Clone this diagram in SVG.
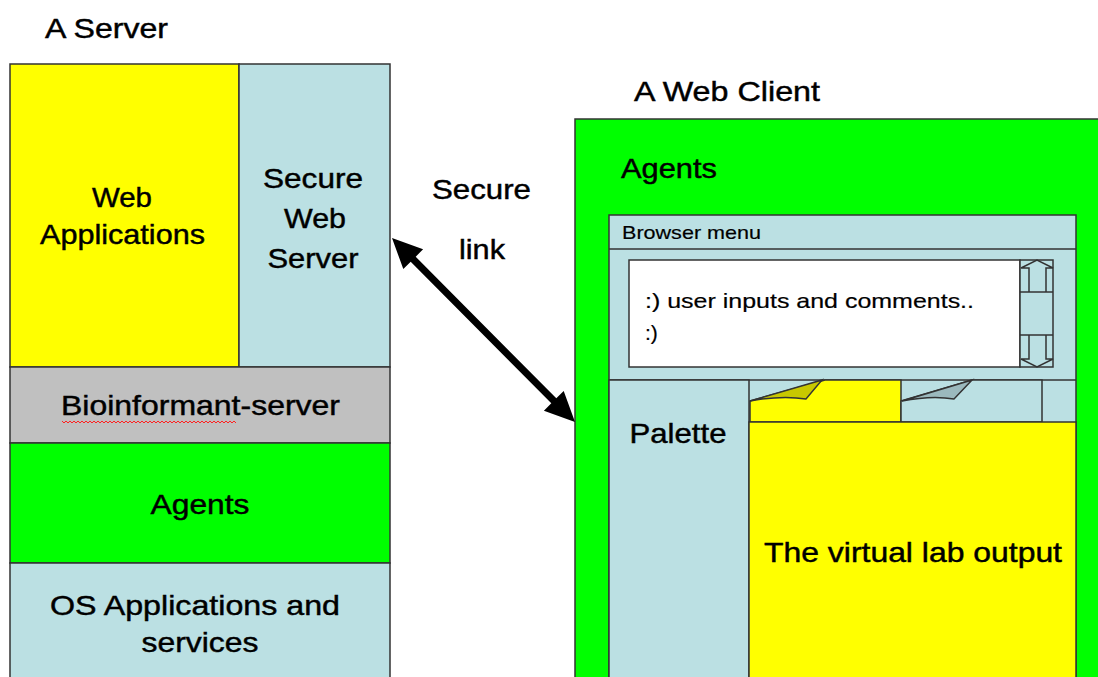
<svg xmlns="http://www.w3.org/2000/svg" width="1098" height="677" viewBox="0 0 1098 677">
  <defs>
    <style>
      .box { stroke: #333; stroke-width: 1.5; }
      .yellow { fill: #ffff00; }
      .blue { fill: #bbe0e3; }
      .gray { fill: #c0c0c0; }
      .green { fill: #00ff00; }
      .white { fill: #ffffff; }
      .line { stroke: #333; stroke-width: 1.5; fill: none; }
      text { font-family: "Liberation Sans", Arial, sans-serif; fill: #000; }
      .big { font-size: 28px; stroke: #000; stroke-width: 0.45px; }
      .small { font-size: 19px; stroke: #000; stroke-width: 0.2px; }
      .mid { font-size: 21px; stroke: #000; stroke-width: 0.2px; }
      .c { text-anchor: middle; }
    </style>
    <!-- spell-check style wavy underline -->
    <pattern id="squiggle" width="4" height="4" patternUnits="userSpaceOnUse">
      <path d="M0,3 L2,1 L4,3" stroke="#ff2020" stroke-width="1" fill="none"/>
    </pattern>
  </defs>

  <rect width="1098" height="677" fill="#ffffff"/>

  <!-- Server stack -->
  <g id="server">
    <text class="big" x="45" y="38" textLength="123" lengthAdjust="spacingAndGlyphs">A Server</text>
  </g>
  <g id="web-applications">
    <rect class="box yellow" x="10" y="64" width="229" height="303"/>
    <text class="big c" x="122" y="207" textLength="60" lengthAdjust="spacingAndGlyphs">Web</text>
    <text class="big c" x="122.5" y="244" textLength="165" lengthAdjust="spacingAndGlyphs">Applications</text>
  </g>
  <g id="secure-web-server">
    <rect class="box blue" x="239" y="64" width="151" height="303"/>
    <text class="big c" x="313" y="188" textLength="100" lengthAdjust="spacingAndGlyphs">Secure</text>
    <text class="big c" x="315" y="228" textLength="62" lengthAdjust="spacingAndGlyphs">Web</text>
    <text class="big c" x="313" y="268" textLength="91" lengthAdjust="spacingAndGlyphs">Server</text>
  </g>
  <g id="bioinformant-server">
    <rect class="box gray" x="10" y="367" width="380" height="76"/>
    <text class="big c" x="200.5" y="415" textLength="279" lengthAdjust="spacingAndGlyphs">Bioinformant-server</text>
    <rect x="62" y="420" width="174" height="4" fill="url(#squiggle)"/>
  </g>
  <g id="server-agents">
    <rect class="box green" x="10" y="443" width="380" height="120"/>
    <text class="big c" x="200" y="514" textLength="99" lengthAdjust="spacingAndGlyphs">Agents</text>
  </g>
  <g id="os-applications">
    <rect class="box blue" x="10" y="563" width="380" height="130"/>
    <text class="big c" x="195" y="615" textLength="290" lengthAdjust="spacingAndGlyphs">OS Applications and</text>
    <text class="big c" x="200" y="652" textLength="117" lengthAdjust="spacingAndGlyphs">services</text>
  </g>

  <!-- Secure link label -->
  <g id="secure-link">
    <text class="big c" x="481.5" y="199" textLength="99" lengthAdjust="spacingAndGlyphs">Secure</text>
    <text class="big c" x="482" y="259" textLength="46" lengthAdjust="spacingAndGlyphs">link</text>
  </g>

  <!-- Web client -->
  <g id="web-client">
    <text class="big" x="634" y="101" textLength="186" lengthAdjust="spacingAndGlyphs">A Web Client</text>
    <rect class="box green" x="575" y="119" width="540" height="580"/>
    <text class="big" x="621" y="178" textLength="96" lengthAdjust="spacingAndGlyphs">Agents</text>
  </g>

  <g id="browser">
    <rect class="box blue" x="609" y="215" width="467" height="480"/>
    <line class="line" x1="609" y1="249" x2="1076" y2="249"/>
    <text class="small" x="622" y="239" textLength="139" lengthAdjust="spacingAndGlyphs">Browser menu</text>
    <line class="line" x1="609" y1="380" x2="1076" y2="380"/>
  </g>

  <g id="comment-box">
    <rect class="box white" x="629" y="260" width="391" height="107"/>
    <text class="mid" x="645" y="308" textLength="329" lengthAdjust="spacingAndGlyphs">:) user inputs and comments..</text>
    <text class="mid" x="645" y="340">:)</text>
  </g>

  <g id="scrollbar">
    <rect class="box blue" x="1020" y="260" width="33" height="107"/>
    <line class="line" x1="1020" y1="292" x2="1053" y2="292"/>
    <line class="line" x1="1020" y1="335" x2="1053" y2="335"/>
    <path class="line" d="M1029,292 V268 L1021,268 L1037,260 L1053,268 L1046,268 V292"/>
    <path class="line" d="M1029,335 V359 L1021,359 L1037,367 L1053,359 L1046,359 V335"/>
  </g>

  <g id="palette">
    <rect class="box blue" x="609" y="380" width="140" height="315"/>
    <text class="big c" x="678" y="443" textLength="97" lengthAdjust="spacingAndGlyphs">Palette</text>
  </g>

  <g id="tabs">
    <path class="box yellow" d="M750,401 L825,380 L901,380 L901,422 L750,422 Z"/>
    <path class="box" fill="#c8c800" d="M750,401 L822,380 L806,399 Q782,395 750,401 Z"/>
    <path class="box blue" d="M901,401 L972,380 L1042,380 L1042,422 L901,422 Z"/>
    <path class="box" fill="#9bb9bd" d="M902,401 L972,380 L954,399 Q932,395 902,401 Z"/>
  </g>

  <g id="virtual-lab-output">
    <rect class="box yellow" x="749" y="422" width="327" height="273"/>
    <text class="big c" x="913" y="562" textLength="298" lengthAdjust="spacingAndGlyphs">The virtual lab output</text>
  </g>

  <!-- Connectors -->
  <g id="connectors">
    <polygon fill="#000" points="392,238 423.1,249.3 415.7,256.7 556.3,398.3 563.7,390.9 575,422 543.9,410.7 551.3,403.3 410.7,261.7 403.3,269.1"/>
  </g>
</svg>
